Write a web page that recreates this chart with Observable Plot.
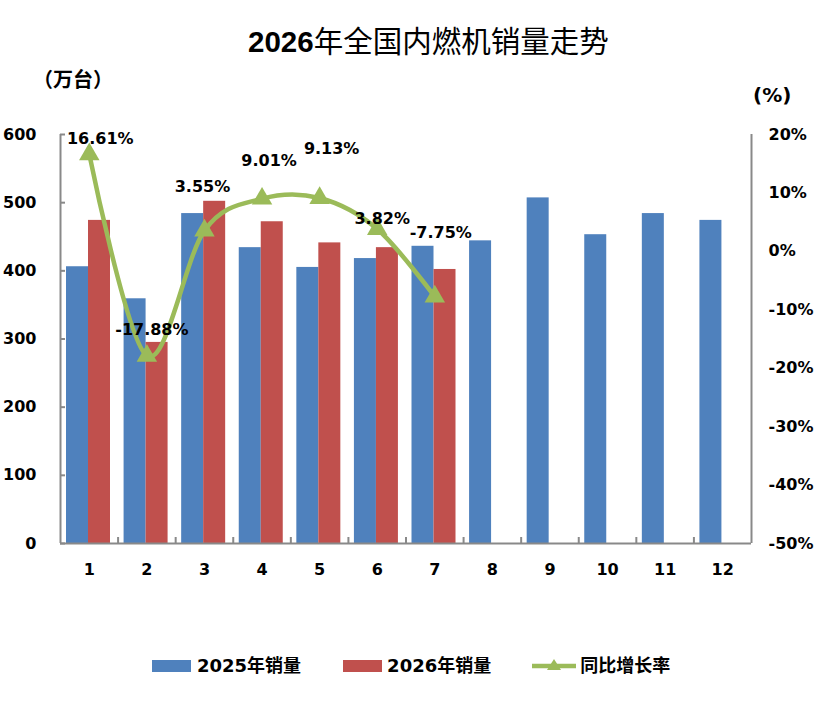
<!DOCTYPE html>
<html><head><meta charset="utf-8">
<script src="https://cdn.jsdelivr.net/npm/d3@7"></script>
<script src="https://cdn.jsdelivr.net/npm/@observablehq/plot@0.6"></script>
<style>
body{margin:0;background:#fff;}
#wrap{position:relative;width:831px;height:708px;overflow:hidden;font-family:"DejaVu Sans","Noto Sans CJK SC",sans-serif;color:#000;}
.abs{position:absolute;white-space:nowrap;line-height:1;}
#title{left:248px;top:27px;font-size:29.5px;font-family:"Liberation Sans","Noto Sans CJK SC",sans-serif;}
#title b{font-weight:bold;}
#unitL{left:33px;top:69px;font-size:20px;font-weight:bold;font-family:"Noto Sans CJK SC",sans-serif;}
#unitR{left:753px;top:85px;font-size:20px;font-weight:bold;font-family:"DejaVu Sans",sans-serif;}
#legend{left:152px;top:657px;display:flex;align-items:center;font-size:18px;font-weight:bold;}
.sw{display:inline-block;width:39px;height:12px;}
#wrap svg.plot{position:absolute;left:0;top:0;}
</style>
</head><body>
<div id="wrap">
  <div id="title" class="abs"><b>2026</b>年全国内燃机销量走势</div>
  <div id="unitL" class="abs">（万台）</div>
  <div id="unitR" class="abs">(%)</div>
  <div id="legend" class="abs">
    <span class="sw" style="background:#4F81BD"></span><span style="margin-left:6px">2025年销量</span>
    <span class="sw" style="background:#C0504D;margin-left:42px"></span><span style="margin-left:5px">2026年销量</span>
    <svg width="44" height="16" style="margin-left:41px"><line x1="0" y1="8" x2="44" y2="8" stroke="#9BBB59" stroke-width="4.5"/><path d="M22,1 L29,12 L15,12 Z" fill="#9BBB59"/></svg><span style="margin-left:4px">同比增长率</span>
  </div>
</div>
<script>
const months = ["1","2","3","4","5","6","7","8","9","10","11","12"];
const sales2025 = [406,359,484,434,405,418,436,444,507,453,484,474];
const sales2026 = [474,295,502,472,441,434,402];
const growth = [16.61,-17.88,3.55,9.01,9.13,3.82,-7.75];
const leftTicks = [0,100,200,300,400,500,600];
const rightTicks = [-50,-40,-30,-20,-10,0,10,20];

// label offsets (layout only)
const labelDx = [11,5,-2,7,12,5,6];
const labelDy = [-15,-26,-44,-38,-49,-10,-64];

const W = 831, H = 708, mT = 134, mB = 165, mL = 60, mR = 80;
const frameW = W - mL - mR, frameH = H - mT - mB, bw = frameW / months.length;

// map percent axis [-50,20] onto the left axis domain [0,600]
const toY = p => (p + 50) * 600 / 70;
const fromY = v => v * 70 / 600 - 50;

const bars25 = months.map((m, i) => ({month: m, value: sales2025[i]}));
const bars26 = sales2026.map((v, i) => ({month: months[i], value: v}));
const rate = growth.map((g, i) => ({month: months[i], y: toY(g), label: g.toFixed(2) + "%"}));

const axisColor = "#898989";

const chart = Plot.plot({
  width: W, height: H,
  marginTop: mT, marginBottom: mB, marginLeft: mL, marginRight: mR,
  style: {fontFamily: "DejaVu Sans, sans-serif", fontSize: "16px", fontWeight: "bold", color: "#000", background: "transparent", overflow: "visible"},
  x: {type: "band", domain: months, padding: 0, round: false, label: null},
  y: {domain: [0, 600], label: null},
  marks: [
    Plot.barY(bars25, {x: "month", y: "value", fill: "#4F81BD", insetLeft: 6, insetRight: bw - 28}),
    Plot.barY(bars26, {x: "month", y: "value", fill: "#C0504D", insetLeft: 28, insetRight: bw - 50}),
    Plot.ruleY([0], {stroke: axisColor, strokeWidth: 2}),
    Plot.ruleX([months[0]], {dx: -bw / 2, stroke: axisColor, strokeWidth: 2}),
    Plot.ruleX([months[months.length - 1]], {dx: bw / 2, stroke: axisColor, strokeWidth: 2}),
    Plot.ruleX(months.slice(0, -1), {dx: bw / 2, insetTop: frameH - 6, stroke: axisColor, strokeWidth: 2}),
    Plot.ruleY(leftTicks, {insetRight: frameW - 5, stroke: axisColor, strokeWidth: 2}),
    Plot.axisX({tickSize: 0, tickPadding: 20, label: null, fontSize: 16, fontWeight: "bold"}),
    Plot.axisY(leftTicks, {anchor: "left", tickSize: 0, tickPadding: 24, label: null, fontSize: 16, fontWeight: "bold"}),
    Plot.axisY(rightTicks.map(toY), {anchor: "right", tickSize: 0, tickPadding: 17, label: null, fontSize: 16, fontWeight: "bold",
      tickFormat: v => Math.round(fromY(v)) + "%"}),
    Plot.line(rate, {x: "month", y: "y", stroke: "#9BBB59", strokeWidth: 4.5, curve: "cardinal"}),
    Plot.dot(rate, {x: "month", y: "y", symbol: "triangle", r: 7.6, fill: "#9BBB59", stroke: "none"}),
    ...rate.map((d, i) => Plot.text([d], {x: "month", y: "y", text: "label", dx: labelDx[i], dy: labelDy[i],
      fontSize: 16, fontWeight: "bold", fill: "#000"}))
  ]
});
document.getElementById("wrap").appendChild(chart);
</script>
</body></html>
